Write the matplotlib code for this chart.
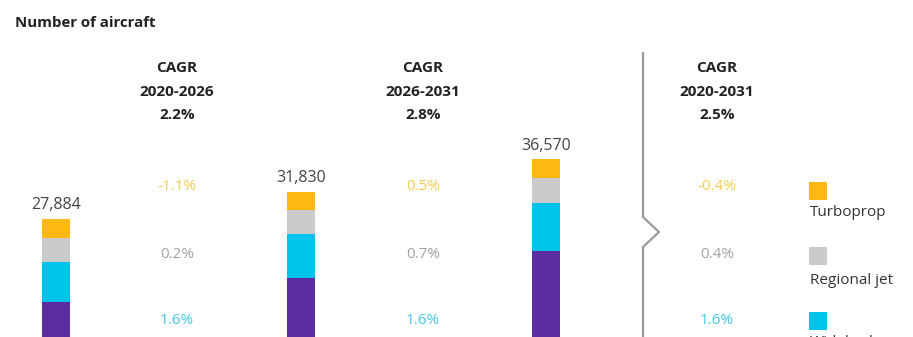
import numpy as np
import matplotlib
matplotlib.use('Agg')
import matplotlib.pyplot as plt
from matplotlib.patches import Rectangle
from matplotlib.lines import Line2D

plt.rcParams['font.family'] = ['Open Sans', 'DejaVu Sans']

# data
years = ['2020', '2026', '2031']
totals = [27884, 31830, 36570]
narrowbody = [15800, 19240, 23250]
widebody = [5820, 6450, 7000]
regional = [3490, 3540, 3660]
turboprop = [2774, 2600, 2660]

segments = ['Narrowbody', 'Widebody', 'Regional jet', 'Turboprop']
colors = {'Narrowbody': '#5C2D9E', 'Widebody': '#00C3EA',
          'Regional jet': '#CBCBCB', 'Turboprop': '#FDB813'}
label_colors = {'Widebody': '#45C8E6', 'Regional jet': '#A3A3A3',
                'Turboprop': '#F6CD55'}

cagr_periods = ['2020-2026', '2026-2031', '2020-2031']
cagr_total = ['2.2%', '2.8%', '2.5%']
cagr_turbo = ['-1.1%', '0.5%', '-0.4%']
cagr_regional = ['0.2%', '0.7%', '0.4%']
cagr_wide = ['1.6%', '1.6%', '1.6%']

W, H = 913, 337
fig = plt.figure(figsize=(W / 100, H / 100), dpi=100)
ax = fig.add_axes([0, 0, 1, 1])
ax.set_xlim(-0.2286, 3.498)
ax.set_ylim(10713, 59767)
ax.axis('off')


def px(x, y):
    # pixel (from top-left) -> figure fraction
    return x / W, 1 - y / H


x = np.arange(len(years))
stack = {'Narrowbody': narrowbody, 'Widebody': widebody,
         'Regional jet': regional, 'Turboprop': turboprop}
bottom = np.zeros(len(years))
for s in segments:
    ax.bar(x, stack[s], bottom=bottom, width=0.116, color=colors[s], linewidth=0)
    bottom += np.array(stack[s])

for xi, t in zip(x, totals):
    ax.annotate(f'{t:,}', (xi, t), xytext=(0, 4), textcoords='offset points',
                ha='center', va='bottom', fontsize=11.5, color='#444444')

fig.text(*px(15, 23), 'Number of aircraft', fontsize=10.8, fontweight='bold',
         color='#222222', ha='left', va='center')

col_x = [177, 423, 717]
for cx, per, tot, tp, rj, wb in zip(col_x, cagr_periods, cagr_total,
                                    cagr_turbo, cagr_regional, cagr_wide):
    for yy, txt in zip([68, 92, 115], ['CAGR', per, tot]):
        fig.text(*px(cx, yy), txt, fontsize=11, fontweight='bold',
                 color='#222222', ha='center', va='center')
    fig.text(*px(cx, 187), tp, fontsize=11, color=label_colors['Turboprop'],
             ha='center', va='center')
    fig.text(*px(cx, 255), rj, fontsize=11, color=label_colors['Regional jet'],
             ha='center', va='center')
    fig.text(*px(cx, 320), wb, fontsize=11, color=label_colors['Widebody'],
             ha='center', va='center')

# separator with chevron
sep = [(643, 53), (643, 217), (659, 232), (643, 247), (643, 345)]
fig.add_artist(Line2D([px(*p)[0] for p in sep], [px(*p)[1] for p in sep],
                      color='#9A9A9A', linewidth=1.6, transform=fig.transFigure))

# legend (the rest lies below the visible area)
leg_items = ['Turboprop', 'Regional jet', 'Widebody']
leg_sq_top = [182, 247, 312]
leg_txt_y = [213, 281, 342]
for name, st, ty in zip(leg_items, leg_sq_top, leg_txt_y):
    fx, fy = px(809, st + 18)
    fig.add_artist(Rectangle((fx, fy), 18 / W, 18 / H, color=colors[name],
                             transform=fig.transFigure, linewidth=0))
    fig.text(*px(810, ty), name, fontsize=11, color='#333333',
             ha='left', va='center')

fig.savefig('out.png', dpi=100)
